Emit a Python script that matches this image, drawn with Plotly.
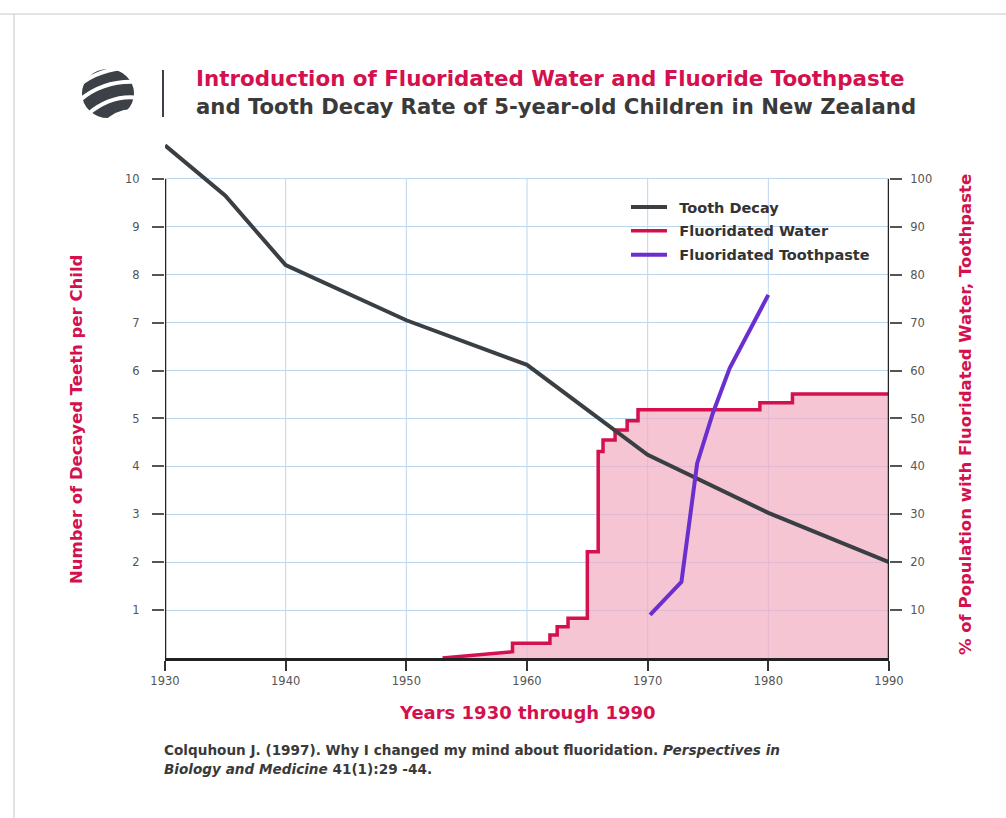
import plotly.graph_objects as go

# ---- data -------------------------------------------------------------
decay_years = [1930, 1935, 1940, 1950, 1960, 1970, 1980, 1990]
decay_teeth = [10.7, 9.65, 8.2, 7.05, 6.12, 4.24, 3.03, 2.0]

# fluoridated water: early ramp, then step changes (year, new level %)
water_ramp_years = [1953.0, 1958.8]
water_ramp_pct = [0.0, 1.3]
water_step_years = [1958.8, 1961.9, 1962.5, 1963.4, 1965.0, 1965.9, 1966.3,
                    1967.3, 1968.3, 1969.2, 1979.3, 1982.0]
water_step_pct = [3.1, 4.8, 6.5, 8.3, 22.2, 43.1, 45.5, 47.6, 49.5, 51.8,
                  53.3, 55.1]
water_end_year = 1990

paste_years = [1970.2, 1972.8, 1974.1, 1975.4, 1976.8, 1980.0]
paste_pct = [9.0, 15.9, 40.6, 51.1, 60.5, 75.8]

left_ticks = [1, 2, 3, 4, 5, 6, 7, 8, 9, 10]
right_ticks = [10, 20, 30, 40, 50, 60, 70, 80, 90, 100]
x_ticks = [1930, 1940, 1950, 1960, 1970, 1980, 1990]

# ---- build the stepped water outline ---------------------------------
wx = list(water_ramp_years)
wy = list(water_ramp_pct)
level = wy[-1]
for yr, lv in zip(water_step_years, water_step_pct):
    wx += [yr, yr]
    wy += [level, lv]
    level = lv
wx.append(water_end_year)
wy.append(level)

# ---- page geometry ---------------------------------------------------
W, H = 1006, 818
ML, MR, MT, MB = 165, 117, 143, 160
PW, PH = W - ML - MR, H - MT - MB
PCT_TOP = 107.5      # percent axis upper bound
TEETH_TOP = 10.75    # teeth axis upper bound (same pixel height)


def px(x):
    return (x - ML) / PW


def py(y):
    return (H - MB - y) / PH


CRIMSON = "#d4104e"
PURPLE = "#6b2fd0"
DARK = "#3a3f43"
PINK = "rgba(242,172,194,0.7)"
GRID = "#bdd6ef"
FONT = "DejaVu Sans, Verdana, sans-serif"

fig = go.Figure()

# percent axis (y) carries the water area; teeth axis (y2) sits above it,
# toothpaste on a hidden percent axis (y3) so it draws on top
fig.add_trace(go.Scatter(
    x=wx, y=wy, yaxis="y", mode="lines", fill="tozeroy",
    fillcolor=PINK, line=dict(width=0), showlegend=False, hoverinfo="skip"))
fig.add_trace(go.Scatter(
    x=wx, y=wy, yaxis="y", mode="lines", name="\u2002Fluoridated Water",
    line=dict(color=CRIMSON, width=3.5), legendgroup="b",
    legendrank=2))
fig.add_trace(go.Scatter(
    x=decay_years, y=decay_teeth, yaxis="y2", mode="lines",
    name="\u2002Tooth Decay",
    line=dict(color=DARK, width=4), legendgroup="a", legendrank=1))
fig.add_trace(go.Scatter(
    x=paste_years, y=paste_pct, yaxis="y3", mode="lines",
    name="\u2002Fluoridated Toothpaste",
    line=dict(color=PURPLE, width=4), legendgroup="c", legendrank=3))

shapes = []
# vertical grid lines limited to the 0-10 band
for xv in x_ticks[1:-1]:
    shapes.append(dict(type="line", xref="x", yref="y2", x0=xv, x1=xv,
                       y0=0, y1=10, line=dict(color=GRID, width=1),
                       layer="below"))
# left and right axis lines
for xv in (x_ticks[0], x_ticks[-1]):
    shapes.append(dict(type="line", xref="x", yref="y2", x0=xv, x1=xv,
                       y0=0, y1=10, line=dict(color="#222", width=2.5)))

# page frame
shapes.append(dict(type="line", xref="paper", yref="paper",
                   x0=px(0), x1=px(W), y0=py(14), y1=py(14),
                   line=dict(color="#c8c8c8", width=1)))
shapes.append(dict(type="line", xref="paper", yref="paper",
                   x0=px(14), x1=px(14), y0=py(14), y1=py(H),
                   line=dict(color="#c8c8c8", width=1)))

# emblem: striped globe and divider
shapes.append(dict(type="circle", xref="paper", yref="paper",
                   x0=px(82), x1=px(134), y0=py(118), y1=py(69),
                   fillcolor="#3b4146", line=dict(width=0)))


def qpath(p0, c, p1):
    return "M {:.4f},{:.4f} Q {:.4f},{:.4f} {:.4f},{:.4f}".format(
        px(p0[0]), py(p0[1]), px(c[0]), py(c[1]), px(p1[0]), py(p1[1]))


for p0, c, p1 in [((78, 86), (100, 68), (130, 68)),
                  ((80, 100), (104, 80), (137, 82)),
                  ((88, 114), (112, 94), (139, 98)),
                  ((104, 124), (120, 108), (139, 112))]:
    shapes.append(dict(type="path", xref="paper", yref="paper",
                       path=qpath(p0, c, p1),
                       line=dict(color="white", width=4)))
shapes.append(dict(type="line", xref="paper", yref="paper",
                   x0=px(163), x1=px(163), y0=py(70), y1=py(117),
                   line=dict(color="#3b4146", width=2)))

annotations = [
    dict(text="<b>Introduction of Fluoridated Water and Fluoride Toothpaste</b>",
         x=px(194), y=py(79), xanchor="left", yanchor="middle",
         font=dict(size=21.4, color=CRIMSON, family=FONT)),
    dict(text="<b>and Tooth Decay Rate of 5-year-old Children in New Zealand</b>",
         x=px(194), y=py(106), xanchor="left", yanchor="middle",
         font=dict(size=21.2, color="#3a3a3a", family=FONT)),
    dict(text="<b>Number of Decayed Teeth per Child</b>", textangle=-90,
         x=px(77), y=py(420), xanchor="center", yanchor="middle",
         font=dict(size=16.5, color=CRIMSON, family=FONT)),
    dict(text="<b>% of Population with Fluoridated Water, Toothpaste</b>",
         textangle=-90, x=px(966), y=py(415), xanchor="center",
         yanchor="middle", font=dict(size=16.5, color=CRIMSON, family=FONT)),
    dict(text="<b>Years 1930 through 1990</b>", x=px(527), y=py(712),
         xanchor="center", yanchor="middle",
         font=dict(size=18, color=CRIMSON, family=FONT)),
    dict(text="<b>Colquhoun J. (1997). Why I changed my mind about fluoridation. "
              "<i>Perspectives in</i></b>",
         x=px(162), y=py(750), xanchor="left", yanchor="middle",
         font=dict(size=13.6, color="#3a3a3a", family=FONT)),
    dict(text="<b><i>Biology and Medicine</i> 41(1):29 -44.</b>",
         x=px(162), y=py(769), xanchor="left", yanchor="middle",
         font=dict(size=13.6, color="#3a3a3a", family=FONT)),
]
for a in annotations:
    a.setdefault("xref", "paper")
    a.setdefault("yref", "paper")
    a["showarrow"] = False

tick_font = dict(size=11.5, color="#555", family=FONT)

fig.update_layout(
    width=W, height=H,
    margin=dict(l=ML, r=MR, t=MT, b=MB),
    paper_bgcolor="white", plot_bgcolor="white",
    font=dict(family=FONT, color="#555"),
    xaxis=dict(range=[1930, 1990], tickvals=x_ticks, showgrid=False,
               zeroline=False, showline=True, linecolor="#222", linewidth=2.5,
               ticks="outside", ticklen=10, tickcolor="#333", tickwidth=1.5,
               tickfont=tick_font),
    yaxis=dict(range=[0, PCT_TOP], tickvals=right_ticks, side="right",
               showgrid=True, gridcolor=GRID, gridwidth=1, zeroline=False,
               showline=False, ticks="outside", ticklen=12, tickcolor="#555",
               tickwidth=1.5, ticklabelstandoff=6, tickfont=tick_font),
    yaxis2=dict(range=[0, TEETH_TOP], tickvals=left_ticks, overlaying="y",
                side="left", showgrid=False, zeroline=False, showline=False,
                ticks="outside", ticklen=12, tickcolor="#555", tickwidth=1.5,
                ticklabelstandoff=10, tickfont=tick_font),
    yaxis3=dict(range=[0, PCT_TOP], overlaying="y", visible=False),
    legend=dict(x=px(626), y=py(191), xanchor="left", yanchor="top",
                bgcolor="rgba(0,0,0,0)", traceorder="grouped",
                tracegroupgap=2, itemwidth=36,
                font=dict(size=14.5, color="#333", family=FONT, weight="bold")),
    shapes=shapes,
    annotations=annotations,
)

fig.write_html("out.html")
